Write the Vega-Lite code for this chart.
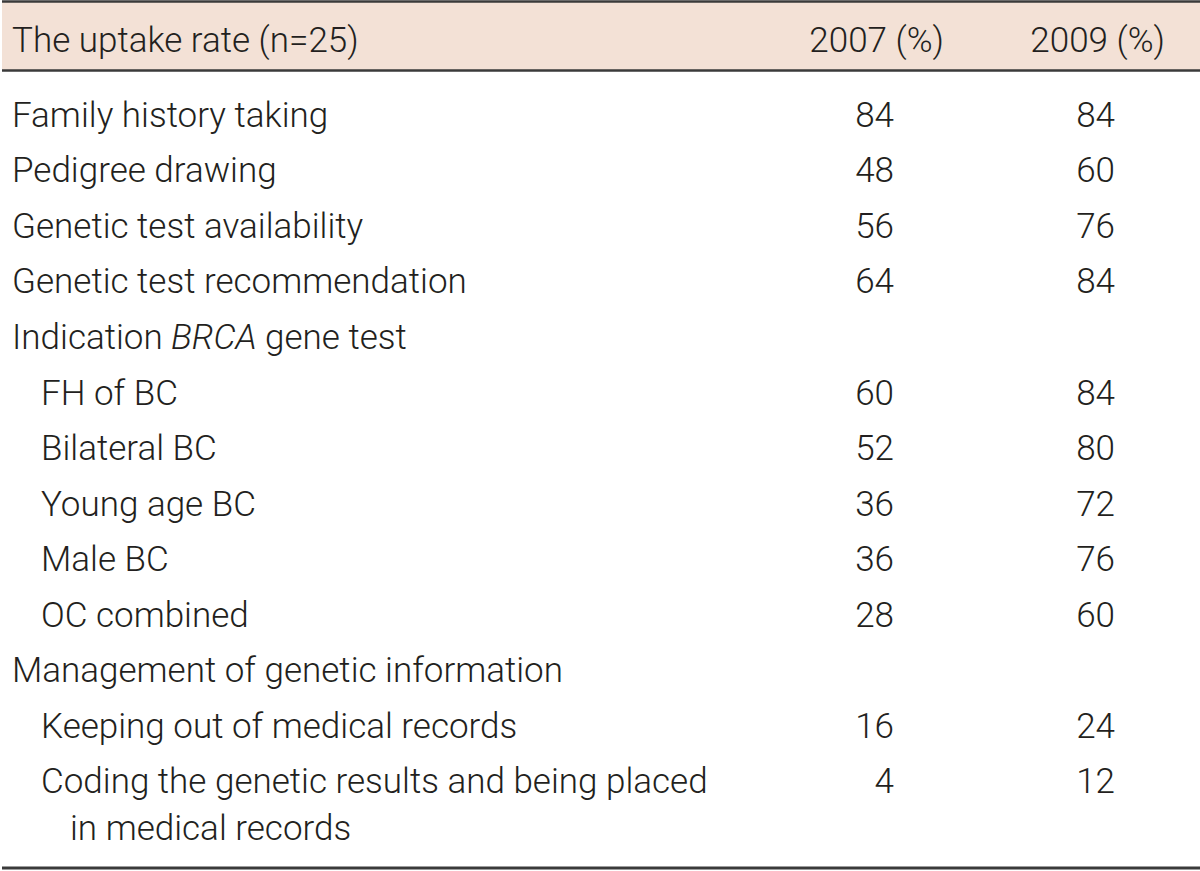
{
  "$schema": "https://vega.github.io/schema/vega-lite/v6.json",
  "width": 1200,
  "height": 871,
  "padding": 0,
  "background": "white",
  "view": {"stroke": null},
  "config": {"text": {"font": "Roboto", "fontWeight": 300, "fontSize": 35, "color": "#231f20", "baseline": "alphabetic"}},
  "resolve": {"scale": {"x": "independent"}},
  "datasets": {
    "rows": [
      {"row": 1, "level": 0, "item": "Family history taking", "y2007": 84, "y2009": 84},
      {"row": 2, "level": 0, "item": "Pedigree drawing", "y2007": 48, "y2009": 60},
      {"row": 3, "level": 0, "item": "Genetic test availability", "y2007": 56, "y2009": 76},
      {"row": 4, "level": 0, "item": "Genetic test recommendation", "y2007": 64, "y2009": 84},
      {"row": 6, "level": 1, "item": "FH of BC", "y2007": 60, "y2009": 84},
      {"row": 7, "level": 1, "item": "Bilateral BC", "y2007": 52, "y2009": 80},
      {"row": 8, "level": 1, "item": "Young age BC", "y2007": 36, "y2009": 72},
      {"row": 9, "level": 1, "item": "Male BC", "y2007": 36, "y2009": 76},
      {"row": 10, "level": 1, "item": "OC combined", "y2007": 28, "y2009": 60},
      {"row": 11, "level": 0, "item": "Management of genetic information"},
      {"row": 12, "level": 1, "item": "Keeping out of medical records", "y2007": 16, "y2009": 24},
      {"row": 13, "level": 1, "item": "Coding the genetic results and being placed", "item2": "in medical records", "y2007": 4, "y2009": 12}
    ],
    "indication": [
      {"row": 5, "level": 0, "part": "Indication"},
      {"row": 5, "level": 0, "part": "BRCA"},
      {"row": 5, "level": 0, "part": "gene test"}
    ],
    "header": [
      {"col": "item", "text": "The uptake rate (n=25)"},
      {"col": "y2007", "text": "2007 (%)"},
      {"col": "y2009", "text": "2009 (%)"}
    ]
  },
  "layer": [
    {
      "data": {"values": [{}]},
      "mark": {"type": "rect", "color": "#f3e1d6"},
      "encoding": {
        "y": {"datum": -1.25, "type": "quantitative", "scale": {"domain": [-1.288, 14.405], "reverse": true, "nice": false, "zero": false}, "axis": null},
        "y2": {"datum": -0.018}
      }
    },
    {
      "data": {"values": [{}]},
      "mark": {"type": "rule", "color": "#3a3a3a", "strokeWidth": 2.5},
      "encoding": {"y": {"datum": -1.262, "type": "quantitative"}}
    },
    {
      "data": {"values": [{}]},
      "mark": {"type": "rule", "color": "#3a3a3a", "strokeWidth": 2.5},
      "encoding": {"y": {"datum": -0.02, "type": "quantitative"}}
    },
    {
      "data": {"values": [{}]},
      "mark": {"type": "rule", "color": "#3a3a3a", "strokeWidth": 3},
      "encoding": {"y": {"datum": 14.35, "type": "quantitative"}}
    },
    {
      "data": {"name": "header"},
      "transform": [{"filter": "datum.col === 'item'"}],
      "mark": {"type": "text", "align": "left", "dy": -19.5},
      "encoding": {
        "x": {"datum": 0, "type": "quantitative", "scale": {"domain": [0, 2], "range": [10, 68], "zero": false, "nice": false}, "axis": null},
        "y": {"datum": 0, "type": "quantitative"},
        "text": {"field": "text"}
      }
    },
    {
      "data": {"name": "header"},
      "transform": [{"filter": "datum.col !== 'item'"}],
      "mark": {"type": "text", "align": "right", "dx": 50, "dy": -19.5},
      "encoding": {
        "x": {"field": "col", "type": "nominal", "scale": {"type": "point", "domain": ["y2007", "y2009"], "range": [892, 1113], "padding": 0}, "axis": null},
        "y": {"datum": 0, "type": "quantitative"},
        "text": {"field": "text"}
      }
    },
    {
      "data": {"name": "rows"},
      "mark": {"type": "text", "align": "left"},
      "encoding": {
        "x": {"field": "level", "type": "quantitative", "scale": {"domain": [0, 2], "range": [10, 68], "zero": false, "nice": false}, "axis": null},
        "y": {"field": "row", "type": "quantitative"},
        "text": {"field": "item"}
      }
    },
    {
      "data": {"name": "rows"},
      "transform": [{"filter": "datum.item2 != null"}],
      "mark": {"type": "text", "align": "left", "dx": 29, "dy": 47},
      "encoding": {
        "x": {"field": "level", "type": "quantitative", "scale": {"domain": [0, 2], "range": [10, 68], "zero": false, "nice": false}, "axis": null},
        "y": {"field": "row", "type": "quantitative"},
        "text": {"field": "item2"}
      }
    },
    {
      "data": {"name": "indication"},
      "transform": [{"filter": "datum.part === 'Indication'"}],
      "mark": {"type": "text", "align": "left"},
      "encoding": {
        "x": {"field": "level", "type": "quantitative", "scale": {"domain": [0, 2], "range": [10, 68], "zero": false, "nice": false}, "axis": null},
        "y": {"field": "row", "type": "quantitative"},
        "text": {"field": "part"}
      }
    },
    {
      "data": {"name": "indication"},
      "transform": [{"filter": "datum.part === 'BRCA'"}],
      "mark": {"type": "text", "align": "left", "fontStyle": "italic", "dx": 159},
      "encoding": {
        "x": {"field": "level", "type": "quantitative", "scale": {"domain": [0, 2], "range": [10, 68], "zero": false, "nice": false}, "axis": null},
        "y": {"field": "row", "type": "quantitative"},
        "text": {"field": "part"}
      }
    },
    {
      "data": {"name": "indication"},
      "transform": [{"filter": "datum.part === 'gene test'"}],
      "mark": {"type": "text", "align": "left", "dx": 253},
      "encoding": {
        "x": {"field": "level", "type": "quantitative", "scale": {"domain": [0, 2], "range": [10, 68], "zero": false, "nice": false}, "axis": null},
        "y": {"field": "row", "type": "quantitative"},
        "text": {"field": "part"}
      }
    },
    {
      "data": {"name": "rows"},
      "transform": [
        {"fold": ["y2007", "y2009"], "as": ["col", "pct"]},
        {"filter": "datum.pct != null"}
      ],
      "mark": {"type": "text", "align": "right"},
      "encoding": {
        "x": {"field": "col", "type": "nominal", "scale": {"type": "point", "domain": ["y2007", "y2009"], "range": [892, 1113], "padding": 0}, "axis": null},
        "y": {"field": "row", "type": "quantitative"},
        "text": {"field": "pct", "type": "quantitative"}
      }
    }
  ]
}
